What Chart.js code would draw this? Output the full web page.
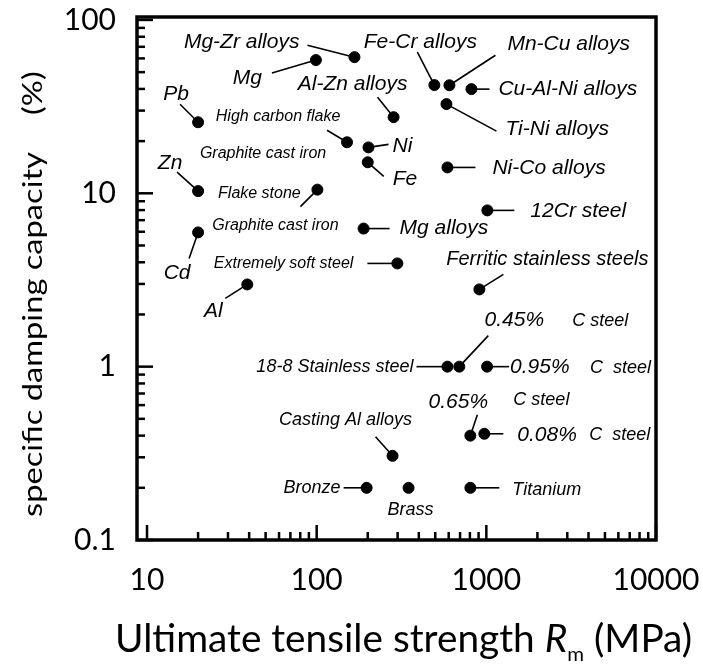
<!DOCTYPE html>
<html>
<head>
<meta charset="utf-8">
<script src="https://cdn.jsdelivr.net/npm/chart.js@4.4.1/dist/chart.umd.min.js"></script>
<style>
  html, body { margin: 0; padding: 0; background: #fff; }
</style>
</head>
<body>
<canvas id="dampingChart" width="703" height="664"></canvas>
<script>
// materials and their values (MPa, %)
const materials = ['Mg-Zr alloys', 'Mg', 'Pb', 'Zn', 'Cd', 'Al',
  'High carbon flake graphite cast iron', 'Flake stone graphite cast iron',
  'Extremely soft steel', 'Al-Zn alloys', 'Ni', 'Fe', 'Fe-Cr alloys', 'Mn-Cu alloys',
  'Cu-Al-Ni alloys', 'Ti-Ni alloys', 'Ni-Co alloys', '12Cr steel', 'Mg alloys',
  'Ferritic stainless steels', '18-8 Stainless steel', '0.45% C steel', '0.95% C steel',
  '0.65% C steel', '0.08% C steel', 'Casting Al alloys', 'Bronze', 'Brass', 'Titanium'];
const strength = [167, 99, 20, 20, 20, 39, 151, 101, 299, 284, 202, 200, 494, 606,
  817, 582, 590, 1014, 189, 910, 590, 693, 1010, 805, 973, 280, 197, 348, 805];
const damping = [61, 58.7, 25.7, 10.3, 5.95, 2.98, 19.7, 10.5, 3.94, 27.5, 18.4, 15.1, 42.1, 42,
  39.9, 32.7, 14.1, 7.97, 6.26, 2.79, 1, 1, 1, 0.40, 0.41, 0.306, 0.2, 0.2, 0.2];
const xTickLabels = [10, 100, 1000, 10000];
const yTickLabels = [0.1, 1, 10, 100];

// leader line from the dot: [point index, dx, dy]
const leaders = [
  [0, -47, -12], [1, -44, 13], [2, -18, -18], [3, -21, -19], [4, -9, 26], [5, -22, 14],
  [6, -20, -12], [7, -17, 17], [8, -30, 0], [9, -16, -20], [10, 20, -3], [11, 16, 14],
  [12, -17, -33], [13, 46, -30], [14, 18, 0], [15, 50, 27], [16, 28, 0], [17, 27, 0],
  [18, 26, 0], [19, 24, -15], [20, -31, 0], [21, 29, -31], [22, 22, 0], [23, 7, -21],
  [24, 19, 0], [25, -17, -19], [26, -23, 0], [28, 29, 0]
];
// label text placed relative to the dot: [point index, text, dx, dy, align, size]
const notes = [
  [0, 'Mg-Zr alloys', -55, -15, 'right', 21],
  [1, 'Mg', -54, 18, 'right', 21],
  [2, 'Pb', -22, -28, 'center', 21],
  [3, 'Zn', -28, -28, 'center', 21],
  [4, 'Cd', -21, 41, 'center', 21],
  [5, 'Al', -34, 27, 'center', 21],
  [6, 'High carbon flake', -69, -26, 'center', 16],
  [6, 'Graphite cast iron', -84, 11, 'center', 16],
  [7, 'Flake stone', -58, 4, 'center', 16],
  [7, 'Graphite cast iron', -42, 36, 'center', 16],
  [8, 'Extremely soft steel', -44, 0, 'right', 16],
  [9, 'Al-Zn alloys', -41, -33, 'center', 21],
  [10, 'Ni', 24, -1, 'left', 21],
  [11, 'Fe', 25, 17, 'left', 21],
  [12, 'Fe-Cr alloys', -14, -43, 'center', 21],
  [13, 'Mn-Cu alloys', 58, -41, 'left', 21],
  [14, 'Cu-Al-Ni alloys', 27, 0, 'left', 21],
  [15, 'Ti-Ni alloys', 59, 25, 'left', 21],
  [16, 'Ni-Co alloys', 45, 1, 'left', 21],
  [17, '12Cr steel', 43, 1, 'left', 21],
  [18, 'Mg alloys', 36, 0, 'left', 21],
  [19, 'Ferritic stainless steels', 68, -30, 'center', 20],
  [20, '18-8 Stainless steel', -34, 0, 'right', 18],
  [21, '0.45%', 55, -46, 'center', 21],
  [21, 'C steel', 113, -46, 'left', 18],
  [22, '0.95%', 23, 1, 'left', 21],
  [22, 'C  steel', 103, 1, 'left', 18],
  [23, '0.65%', -12, -33, 'center', 21],
  [23, 'C steel', 43, -36, 'left', 18],
  [24, '0.08%', 33, 1, 'left', 21],
  [24, 'C  steel', 105, 1, 'left', 18],
  [25, 'Casting Al alloys', -47, -36, 'center', 18],
  [26, 'Bronze', -26, 0, 'right', 18],
  [27, 'Brass', 2, 22, 'center', 18],
  [28, 'Titanium', 42, 2, 'left', 18]
];

const axisFont = 'Lato, "DejaVu Sans", sans-serif';
const noteFont = '"Liberation Sans", Arial, sans-serif';

const extras = {
  id: 'extras',
  beforeDatasetsDraw(chart) {
    const { ctx, scales: { x, y } } = chart;
    ctx.save();
    ctx.strokeStyle = '#000';
    ctx.lineWidth = 1.6;
    leaders.forEach(([i, ex, ey]) => {
      const px = x.getPixelForValue(strength[i]);
      const py = y.getPixelForValue(damping[i]);
      ctx.beginPath();
      ctx.moveTo(px, py);
      ctx.lineTo(px + ex, py + ey);
      ctx.stroke();
    });
    ctx.restore();
  },
  afterDraw(chart) {
    const { ctx, chartArea: a, scales: { x, y } } = chart;
    ctx.save();
    ctx.strokeStyle = '#000';

    // inward tick marks
    ctx.lineWidth = 2.5;
    for (let d = 10; d <= 10000; d *= 10) {
      for (let k = 1; k <= 9; k++) {
        const v = d * k;
        if (v > 10000) break;
        const px = x.getPixelForValue(v);
        const len = k === 1 ? 15 : 8;
        ctx.beginPath();
        ctx.moveTo(px, a.bottom);
        ctx.lineTo(px, a.bottom - len);
        ctx.stroke();
      }
    }
    for (let d = 0.1; d <= 100; d *= 10) {
      for (let k = 1; k <= 9; k++) {
        const v = d * k;
        if (v > 101) break;
        const py = y.getPixelForValue(v);
        const len = k === 1 ? 16 : 8;
        ctx.beginPath();
        ctx.moveTo(a.left, py);
        ctx.lineTo(a.left + len, py);
        ctx.stroke();
      }
    }

    // frame
    ctx.lineWidth = 3.5;
    ctx.strokeRect(a.left, a.top, a.right - a.left, a.bottom - a.top);

    // notes
    ctx.fillStyle = '#000';
    ctx.textBaseline = 'middle';
    notes.forEach(([i, text, dx, dy, align, size]) => {
      const px = x.getPixelForValue(strength[i]);
      const py = y.getPixelForValue(damping[i]);
      ctx.font = 'italic ' + size + 'px ' + noteFont;
      ctx.textAlign = align;
      ctx.fillText(text, px + dx, py + dy);
    });

    // x axis title, squeezed to the reference width
    ctx.textAlign = 'left';
    ctx.textBaseline = 'alphabetic';
    const base = '38px ' + axisFont;
    const parts = [
      ['Ultimate tensile strength ', base, 0],
      ['R', 'italic ' + base, 0],
      ['m', '20px ' + axisFont, 9],
      [' (MPa)', base, 0]
    ];
    let total = 0;
    parts.forEach(p => { ctx.font = p[1]; total += ctx.measureText(p[0]).width; });
    ctx.translate(115, 652);
    ctx.scale(577 / total, 1);
    let cx = 0;
    parts.forEach(p => {
      ctx.font = p[1];
      ctx.fillText(p[0], cx, p[2]);
      cx += ctx.measureText(p[0]).width;
    });
    ctx.setTransform(1, 0, 0, 1, 0, 0);

    // y axis title
    ctx.font = '27px ' + axisFont;
    const yt = 'specific damping capacity';
    const sy = 365 / ctx.measureText(yt).width;
    ctx.translate(42, 517);
    ctx.rotate(-Math.PI / 2);
    ctx.scale(sy, 1);
    ctx.fillText(yt, 0, 0);
    ctx.setTransform(1, 0, 0, 1, 0, 0);
    ctx.translate(42, 115);
    ctx.rotate(-Math.PI / 2);
    ctx.scale(sy, 1);
    ctx.fillText('(%)', 0, 0);
    ctx.restore();
  }
};

// keep the plot box where the reference has it
function noScalePadding(s) {
  s.paddingTop = 0;
  s.paddingBottom = 0;
  s.paddingLeft = 0;
  s.paddingRight = 0;
}

new Chart(document.getElementById('dampingChart'), {
  type: 'scatter',
  data: {
    labels: materials,
    datasets: [{
      label: 'specific damping capacity',
      data: strength.map((v, i) => ({ x: v, y: damping[i] })),
      backgroundColor: '#000',
      borderColor: '#000',
      pointRadius: 5.5,
      pointHoverRadius: 5.5
    }]
  },
  options: {
    responsive: false,
    animation: false,
    devicePixelRatio: 1,
    layout: { padding: { top: 17, right: 47, left: 0, bottom: 0 } },
    plugins: { legend: { display: false }, tooltip: { enabled: false } },
    scales: {
      x: {
        type: 'logarithmic',
        min: 8.73,
        max: 10000,
        grid: { display: false, drawTicks: false },
        border: { display: false },
        afterBuildTicks: s => { s.ticks = xTickLabels.map(v => ({ value: v })); },
        afterFit: s => { s.height = 124; noScalePadding(s); },
        ticks: {
          font: { family: axisFont, size: 30 },
          color: '#000',
          padding: 22,
          autoSkip: false,
          maxRotation: 0,
          callback: v => String(v)
        }
      },
      y: {
        type: 'logarithmic',
        min: 0.1,
        max: 104,
        grid: { display: false, drawTicks: false },
        border: { display: false },
        afterBuildTicks: s => { s.ticks = yTickLabels.map(v => ({ value: v })); },
        afterFit: s => { s.width = 137; noScalePadding(s); },
        ticks: {
          font: { family: axisFont, size: 30 },
          color: '#000',
          padding: 21,
          autoSkip: false,
          callback: v => String(v)
        }
      }
    }
  },
  plugins: [extras]
});
</script>
</body>
</html>
